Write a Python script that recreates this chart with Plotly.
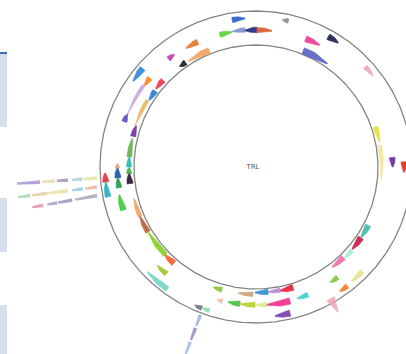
import numpy as np
import plotly.graph_objects as go

# Ring geometry (chart units map 1:1 onto a 406 x 354 frame, y pointing down)
CX, CY = 256.0, 167.0
R_INNER, R_OUTER = 122.0, 156.0

# Annotated features: start / end position (degrees clockwise from 12 o'clock),
# ring track radius, strand (-1: broad end at start, +1: broad end at end)
feat_start = [-9.2, 10.0, -15.3, -10.1, -4.6, 0.4, 21.2, 29.0, 22.1, -32.5,
              -30.5, -39.0, -37.3, -55.0, -54.0, -67.5, -71.0, -52.0, -58.0, -71.0,
              -76.0, -85.5, -90.0, -93.0, -97.5, -90.5, -94.5, -98.6, -95.7, -101.4,
              -108.0, -113.0, -121.0, -134.0, -139.5, -140.0, -144.0,
              195.5, 194.0, 186.7, 180.4, 175.4, 165.8, 157.9, 166.9,
              181.4, 174.5, 168.9, 162.9,
              136.0, 131.0, 124.0, 117.5, 143.5, 134.5, 142.5,
              47.5, 71.5, 80.0, 86.0, 88.0, 201.0, 198.0]
feat_end = [-4.2, 12.5, -10.1, -4.6, 0.4, 6.7, 27.5, 33.5, 34.6, -21.8,
            -25.0, -36.0, -34.0, -49.0, -50.0, -54.0, -67.5, -47.0, -53.0, -58.5,
            -71.0, -77.0, -85.5, -90.0, -93.0, -88.5, -90.5, -94.5, -92.3, -95.7,
            -101.5, -104.5, -113.0, -121.0, -134.0, -135.0, -134.0,
            199.5, 196.5, 191.7, 186.7, 180.4, 175.4, 162.6, 172.7,
            188.1, 180.5, 174.5, 168.9,
            142.8, 136.0, 130.5, 124.0, 147.5, 140.0, 146.0,
            52.0, 78.5, 96.0, 90.0, 92.0, 204.0, 201.0]
feat_track = [149.0, 149.5, 137.0, 137.5, 137.0, 137.0, 137.5, 149.0, 125.5, 125.5,
              138.0, 139.0, 126.0, 150.0, 138.3, 138.8, 139.3, 127.0, 126.0, 127.5,
              126.7, 127.0, 127.0, 127.0, 127.0, 138.5, 138.5, 138.5, 151.0, 151.0,
              139.5, 126.0, 126.0, 126.0, 126.5, 139.4, 151.0,
              127.5, 138.3, 137.8, 137.8, 138.0, 138.2, 137.8, 150.2,
              127.3, 125.5, 125.5, 126.0,
              125.8, 127.0, 126.5, 126.5, 137.3, 149.0, 150.0,
              148.3, 126.0, 125.8, 136.6, 148.0, 151.3, 151.0]
feat_strand = [-1, 1, -1, 1, 1, -1, -1, -1, -1, 1,
               1, -1, 1, 1, 1, 1, -1, 1, 1, 1,
               -1, -1, -1, -1, -1, -1, -1, -1, -1, -1,
               -1, -1, -1, -1, -1, -1, -1,
               -1, -1, -1, -1, -1, -1, -1, -1,
               -1, -1, -1, -1,
               -1, -1, -1, -1, -1, -1, -1,
               -1, -1, -1, -1, -1, -1, -1]

# Feature styling
feat_color = ['#2c5fc8', '#8c8c8c', '#5ccf3a', '#7f8fcc', '#1c2a85', '#d95a30', '#ea3d98', '#1d2150', '#5b63c2', '#f4a262',
              '#e07a2a', '#c63ca8', '#1e1e1e', '#2e88d8', '#f08c30', '#c9a6dc', '#5a50c2', '#e83850', '#2a80d0', '#e8b462',
              '#7232a2', '#68b24a', '#2ab8b0', '#3cb44b', '#2b1838', '#f0a070', '#2050b8', '#2a9a52', '#e83040', '#22b2c2',
              '#40c840', '#f0a262', '#b8643e', '#84d024', '#f06030', '#a2c232', '#72d6c8',
              '#8cc63f', '#f2c4b4', '#48c048', '#bcd232', '#d8e890', '#f0308a', '#40d0d0', '#7a40b0',
              '#c9a27a', '#2f8fd0', '#b48ad2', '#e82040',
              '#f070a8', '#a8e8da', '#c8204a', '#48b8a8', '#8cc63f', '#e4e28a', '#f08020',
              '#f2a6bc', '#e8e030', '#f0e8a0', '#6a2aa0', '#e03020', '#6e7680', '#94d8aa']
feat_halfwidth = [2.6, 2.2, 2.6, 2.2, 2.8, 2.6, 3.0, 3.0, 3.2, 3.0,
                  2.8, 2.6, 2.8, 3.0, 2.8, 1.6, 2.6, 2.8, 2.8, 1.7,
                  2.6, 2.5, 2.5, 2.5, 3.0, 2.2, 3.0, 2.8, 3.0, 2.8,
                  3.0, 2.2, 2.6, 2.6, 3.0, 2.6, 2.6,
                  2.5, 2.4, 2.6, 2.6, 2.2, 3.2, 2.6, 3.0,
                  2.2, 2.6, 2.2, 3.0,
                  2.8, 2.4, 3.0, 2.8, 2.6, 2.6, 2.6,
                  2.4, 2.4, 1.8, 2.8, 2.8, 2.2, 2.2]

# Radial link spokes leaving the outer ring: angle (deg), inner / outer radius
spoke_angle = [-94.0] * 5 + [-97.2] * 5 + [-100.2] * 4 + [200.6] * 4
spoke_r0 = [216.5, 201.5, 188.5, 174.4, 159.4,
            227.8, 210.7, 189.5, 174.4, 160.3,
            216.2, 202.0, 186.8, 161.4,
            158.0, 172.0, 187.0, 202.0]
spoke_r1 = [239.6, 214.5, 199.5, 184.4, 173.4,
            240.0, 225.8, 210.7, 185.5, 172.4,
            227.4, 212.0, 201.0, 183.8,
            170.0, 185.0, 200.0, 214.0]
spoke_color = ['#a898d0', '#e8dca8', '#9c94b8', '#a8cce8', '#ece4a0',
               '#a8d8b0', '#e4cca4', '#ece2a8', '#92d0e8', '#f2b2a2',
               '#d898a8', '#a0a4c4', '#a090b8', '#a8a8ba',
               '#98b0dc', '#9888c0', '#a0c0e8', '#a8b8e0']

# Outward marker on the outer ring
marker_angle = [150.5]
marker_r0 = [151.0]
marker_r1 = [167.0]
marker_color = ['#f2a0b2']


def polar(theta_deg, r):
    t = np.radians(theta_deg)
    return CX + r * np.sin(t), CY - r * np.cos(t)


def arc_glyph(a0, a1, r, strand, hw, n=28):
    t = np.linspace(0.0, 1.0, n)
    s = t if strand < 0 else 1.0 - t          # s = 0 at the broad end
    prof = np.where(s < 0.4, hw, hw * (1.0 - 0.85 * (s - 0.4) / 0.6))
    ang = a0 + (a1 - a0) * t
    xo, yo = polar(ang, r + prof)
    xi, yi = polar(ang[::-1], r - prof[::-1])
    return np.r_[xo, xi, xo[:1]], np.r_[yo, yi, yo[:1]]


def radial_glyph(theta, r0, r1, hw0, hw1):
    t = np.radians(theta)
    ux, uy = np.sin(t), -np.cos(t)
    nx, ny = np.cos(t), np.sin(t)
    x0, y0 = CX + r0 * ux, CY + r0 * uy
    x1, y1 = CX + r1 * ux, CY + r1 * uy
    xs = [x0 + hw0 * nx, x1 + hw1 * nx, x1 - hw1 * nx, x0 - hw0 * nx, x0 + hw0 * nx]
    ys = [y0 + hw0 * ny, y1 + hw1 * ny, y1 - hw1 * ny, y0 - hw0 * ny, y0 + hw0 * ny]
    return xs, ys


fig = go.Figure()

# ring outlines
ring_t = np.linspace(0, 360, 721)
for rr in (R_INNER, R_OUTER):
    x, y = polar(ring_t, rr)
    fig.add_trace(go.Scatter(x=x, y=y, mode='lines',
                             line=dict(color='#858585', width=1.3),
                             hoverinfo='skip', showlegend=False))

# spokes
for a, r0, r1, c in zip(spoke_angle, spoke_r0, spoke_r1, spoke_color):
    x, y = radial_glyph(a, r0, r1, 1.9, 1.1)
    fig.add_trace(go.Scatter(x=x, y=y, mode='lines', fill='toself',
                             fillcolor=c, line=dict(width=0, color=c),
                             opacity=0.85, hoverinfo='skip', showlegend=False))

for a, r0, r1, c in zip(marker_angle, marker_r0, marker_r1, marker_color):
    x, y = radial_glyph(a, r0, r1, 4.5, 0.4)
    fig.add_trace(go.Scatter(x=x, y=y, mode='lines', fill='toself',
                             fillcolor=c, line=dict(width=0, color=c),
                             opacity=0.85, hoverinfo='skip', showlegend=False))

# features
for a0, a1, r, s, c, hw in zip(feat_start, feat_end, feat_track, feat_strand,
                               feat_color, feat_halfwidth):
    x, y = arc_glyph(a0, a1, r, s, hw)
    fig.add_trace(go.Scatter(x=x, y=y, mode='lines', fill='toself',
                             fillcolor=c, line=dict(width=0.6, color=c),
                             opacity=0.92, hoverinfo='skip', showlegend=False))

# centre label
fig.add_trace(go.Scatter(x=[CX - 3], y=[CY], mode='text', text=['TRL'],
                         textfont=dict(family='DejaVu Sans', size=7, color='#555555'),
                         hoverinfo='skip', showlegend=False))

# side panels along the left edge
shapes = []
for y0, y1 in ((52, 127), (198, 252), (305, 354)):
    shapes.append(dict(type='rect', xref='x', yref='y', x0=0, x1=7, y0=y0, y1=y1,
                       fillcolor='#d5dfee', line=dict(width=0), layer='below'))
shapes.append(dict(type='line', xref='x', yref='y', x0=0, x1=7, y0=53, y1=53,
                   line=dict(color='#3d6db4', width=2)))

fig.update_layout(
    width=406, height=354,
    margin=dict(l=0, r=0, t=0, b=0),
    paper_bgcolor='white', plot_bgcolor='white',
    shapes=shapes,
    xaxis=dict(range=[0, 406], visible=False, fixedrange=True),
    yaxis=dict(range=[354, 0], visible=False, fixedrange=True),
    showlegend=False,
)

fig.write_html('out.html')
